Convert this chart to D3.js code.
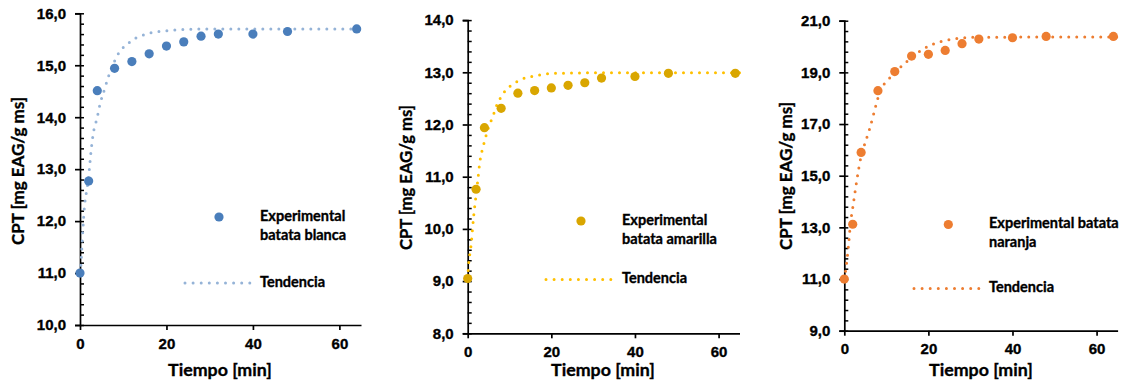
<!DOCTYPE html>
<html>
<head>
<meta charset="utf-8">
<script src="https://cdn.jsdelivr.net/npm/d3@7"></script>
<style>
  html, body { margin: 0; padding: 0; background: #fff; }
  svg { display: block; font-family: Lato, "Open Sans", sans-serif; font-weight: 700; }
  svg text { stroke: #000; stroke-width: 0.35px; paint-order: stroke; }
</style>
</head>
<body>
<div id="chart"></div>
<script>
// measured times (min)
const tiempo = [0, 2, 4, 8, 12, 16, 20, 24, 28, 32, 40, 48, 64];

// experimental CPT values per sweet potato
const blanca   = [11.00, 12.77, 14.51, 14.94, 15.07, 15.22, 15.37, 15.45, 15.56, 15.60, 15.60, 15.65, 15.70];
const amarilla = [9.05, 10.76, 11.94, 12.31, 12.60, 12.65, 12.70, 12.75, 12.80, 12.89, 12.92, 12.98, 12.98];
const naranja  = [11.00, 13.12, 15.90, 18.29, 19.03, 19.63, 19.70, 19.85, 20.11, 20.29, 20.34, 20.39, 20.39];

// trend curves
const tendTBlanca = [0, 0.25, 0.5, 0.75, 1, 1.5, 2, 2.5, 3, 4, 4.6, 5.6, 6.7, 8, 9, 10, 11.6, 13, 15, 16.6, 18.5, 22, 30, 65];
const tendBlanca  = [11.0, 11.2, 11.6, 11.95, 12.25, 12.57, 12.86, 13.3, 13.65, 14.0, 14.24, 14.52, 14.81, 15.08, 15.24, 15.34, 15.45, 15.53, 15.59, 15.63, 15.65, 15.68, 15.7, 15.7];

const tendTAmarilla = [0, 0.3, 0.6, 0.85, 1.15, 1.5, 2, 2.4, 2.8, 3.5, 4, 5, 6, 7, 8, 9, 10.4, 12, 14, 16, 18, 21, 30, 65];
const tendAmarilla  = [9.05, 9.4, 9.56, 9.72, 10.0, 10.3, 10.65, 10.92, 11.22, 11.52, 11.67, 11.95, 12.15, 12.38, 12.53, 12.65, 12.75, 12.83, 12.9, 12.93, 12.96, 12.98, 12.99, 12.99];

const tendTNaranja = [0, 0.5, 1, 1.5, 2, 3, 4, 5, 6, 7, 8, 9, 10, 12, 14, 16, 18, 20, 22, 24, 26, 28, 32, 65];
const tendNaranja  = [11.0, 11.55, 12.3, 13.2, 13.75, 14.85, 15.75, 16.3, 16.8, 17.4, 18.0, 18.43, 18.64, 18.98, 19.3, 19.56, 19.82, 20.01, 20.15, 20.23, 20.29, 20.33, 20.36, 20.37];

// axis ticks
const xTicks = [0, 20, 40, 60];
const yTicksBlanca   = [10, 11, 12, 13, 14, 15, 16];
const yTicksAmarilla = [8, 9, 10, 11, 12, 13, 14];
const yTicksNaranja  = [9, 11, 13, 15, 17, 19, 21];

const legendNames = [
  ["Experimental", "batata blanca"],
  ["Experimental", "batata amarilla"],
  ["Experimental batata", "naranja"]
];

const width = 1133, height = 381;

const svg = d3.select("#chart").append("svg")
  .attr("width", width)
  .attr("height", height);

const fmt = v => d3.format(".1f")(v).replace(".", ",");

const panels = [
  {
    vals: blanca, tT: tendTBlanca, tV: tendBlanca, yTicks: yTicksBlanca, names: legendNames[0],
    box: { left: 80, right: 361, top: 13.3, bottom: 325 },
    dot: "#4a7ebb", trend: "#95b3d7",
    yTitle: "CPT  [mg EAG/g ms]", yTitleX: 20, yTitleY: 171, yTitleLen: 148, xTitleX: 220,
    leg: { mx: 219, my: 217, tx: 260, ly: 283, lx1: 185, lx2: 250 }
  },
  {
    vals: amarilla, tT: tendTAmarilla, tV: tendAmarilla, yTicks: yTicksAmarilla, names: legendNames[1],
    box: { left: 467.7, right: 739.5, top: 20.1, bottom: 333.3 },
    dot: "#d9a600", trend: "#ffc000",
    yTitle: "CPT [mg EAG/g ms]", yTitleX: 408, yTitleY: 177.5, yTitleLen: 145, xTitleX: 603,
    leg: { mx: 581, my: 221, tx: 622, ly: 279.5, lx1: 546, lx2: 612 }
  },
  {
    vals: naranja, tT: tendTNaranja, tV: tendNaranja, yTicks: yTicksNaranja, names: legendNames[2],
    box: { left: 844.3, right: 1117.6, top: 20.7, bottom: 330.7 },
    dot: "#ed7d31", trend: "#ed7d31",
    yTitle: "CPT [mg EAG/g ms]", yTitleX: 788, yTitleY: 176, yTitleLen: 148, xTitleX: 981,
    leg: { mx: 948.3, my: 224.5, tx: 989, ly: 288.5, lx1: 914, lx2: 979 }
  }
];

panels.forEach(p => {
  const b = p.box;
  const yMin = p.yTicks[0], yMax = p.yTicks[p.yTicks.length - 1];
  const step = p.yTicks[1] - p.yTicks[0];

  const x = d3.scaleLinear().domain([0, 65]).range([b.left, b.right]);
  const y = d3.scaleLinear().domain([yMin, yMax]).range([b.bottom, b.top]);

  const minorTicks = d3.range(yMin, yMax + step / 10, step / 5);

  // y axis: labels + outer half of major ticks
  svg.append("g")
    .attr("transform", `translate(${b.left},0)`)
    .call(d3.axisLeft(y).tickValues(p.yTicks).tickFormat(fmt).tickSize(5).tickPadding(9))
    .call(g => g.selectAll("text").style("font-size", "15px").attr("fill", "#000"))
    .call(g => g.selectAll("line, path").attr("stroke", "#000").attr("stroke-width", 1.7));

  // inner minor ticks
  svg.append("g")
    .attr("transform", `translate(${b.left},0)`)
    .call(d3.axisRight(y).tickValues(minorTicks).tickFormat("").tickSize(4).tickSizeOuter(0))
    .call(g => g.select(".domain").remove())
    .call(g => g.selectAll("line").attr("stroke", "#000").attr("stroke-width", 1.5));

  // x axis
  svg.append("g")
    .attr("transform", `translate(0,${b.bottom})`)
    .call(d3.axisBottom(x).tickValues(xTicks).tickSize(5).tickSizeOuter(0).tickPadding(8))
    .call(g => g.selectAll("text").style("font-size", "15px").attr("fill", "#000"))
    .call(g => g.selectAll("line, path").attr("stroke", "#000").attr("stroke-width", 1.7));

  // axis titles
  svg.append("text")
    .attr("transform", `translate(${p.yTitleX},${p.yTitleY}) rotate(-90)`)
    .attr("text-anchor", "middle")
    .attr("dominant-baseline", "middle")
    .attr("textLength", p.yTitleLen)
    .attr("lengthAdjust", "spacingAndGlyphs")
    .style("font-size", "17px")
    .text(p.yTitle);

  svg.append("text")
    .attr("x", p.xTitleX)
    .attr("y", 376)
    .attr("text-anchor", "middle")
    .style("font-size", "17.8px")
    .text("Tiempo [min]");

  // trend
  const trendData = p.tT.map((t, i) => [t, p.tV[i]]);
  svg.append("path")
    .datum(trendData)
    .attr("fill", "none")
    .attr("stroke", p.trend)
    .attr("stroke-width", 3)
    .attr("stroke-linecap", "round")
    .attr("stroke-dasharray", "0 8")
    .attr("d", d3.line().x(d => x(d[0])).y(d => y(d[1])).curve(d3.curveMonotoneX));

  // experimental points
  svg.append("g")
    .selectAll("circle")
    .data(tiempo.map((t, i) => [t, p.vals[i]]))
    .join("circle")
    .attr("cx", d => x(d[0]))
    .attr("cy", d => y(d[1]))
    .attr("r", 4.6)
    .attr("fill", p.dot);

  // legend
  const l = p.leg;
  svg.append("circle").attr("cx", l.mx).attr("cy", l.my).attr("r", 4.6).attr("fill", p.dot);
  p.names.forEach((n, i) => {
    svg.append("text")
      .attr("x", l.tx)
      .attr("y", l.my + i * 19)
      .attr("dominant-baseline", "middle")
      .style("font-size", "14.5px")
      .text(n);
  });
  svg.append("line")
    .attr("x1", l.lx1).attr("x2", l.lx2)
    .attr("y1", l.ly).attr("y2", l.ly)
    .attr("stroke", p.trend)
    .attr("stroke-width", 3)
    .attr("stroke-linecap", "round")
    .attr("stroke-dasharray", "0 8.1");
  svg.append("text")
    .attr("x", l.tx)
    .attr("y", l.ly)
    .attr("dominant-baseline", "middle")
    .style("font-size", "14.5px")
    .text("Tendencia");
});
</script>
</body>
</html>
